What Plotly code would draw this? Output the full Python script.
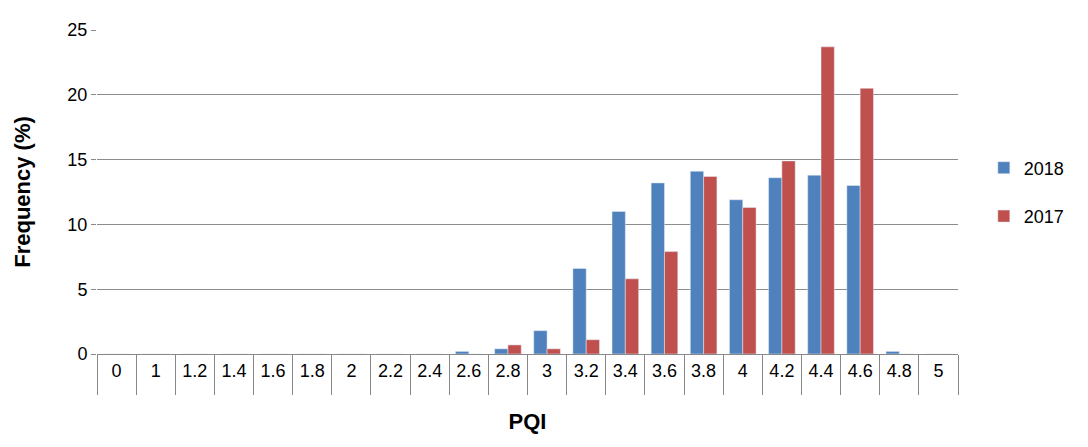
import plotly.graph_objects as go

pqi = ["0", "1", "1.2", "1.4", "1.6", "1.8", "2", "2.2", "2.4", "2.6", "2.8",
       "3", "3.2", "3.4", "3.6", "3.8", "4", "4.2", "4.4", "4.6", "4.8", "5"]
freq_2018 = [0, 0, 0, 0, 0, 0, 0, 0, 0, 0.2, 0.4, 1.8, 6.6, 11.0, 13.2, 14.1,
             11.9, 13.6, 13.8, 13.0, 0.2, 0]
freq_2017 = [0, 0, 0, 0, 0, 0, 0, 0, 0, 0, 0.7, 0.4, 1.1, 5.8, 7.9, 13.7,
             11.3, 14.9, 23.7, 20.5, 0, 0]

fig = go.Figure()
fig.add_trace(go.Bar(x=pqi, y=freq_2018, name="2018", marker_color="#4f81bd",
                     legendgroup="a"))
fig.add_trace(go.Bar(x=pqi, y=freq_2017, name="2017", marker_color="#c0504d",
                     legendgroup="b"))

fig.update_layout(
    width=1088, height=447,
    paper_bgcolor="white", plot_bgcolor="white",
    font=dict(family="Liberation Sans, Arial", size=18, color="black"),
    margin=dict(l=89, r=138, t=12, b=94),
    bargap=0.32, bargroupgap=0,
    legend=dict(x=1.03, y=0.5, yanchor="middle", font=dict(size=18),
                tracegroupgap=22),
    xaxis=dict(title=dict(text="<b>PQI</b>", standoff=34), showline=True,
               linecolor="#888", ticks="outside", tickcolor="#888",
               ticklen=40, tickson="boundaries"),
    yaxis=dict(title=dict(text="<b>Frequency (%)</b>", standoff=30),
               range=[0, 25], dtick=5, gridcolor="#8c8c8c", showline=False,
               ticks="outside", tickcolor="#888", zeroline=False),
)
fig.write_html("out.html")
